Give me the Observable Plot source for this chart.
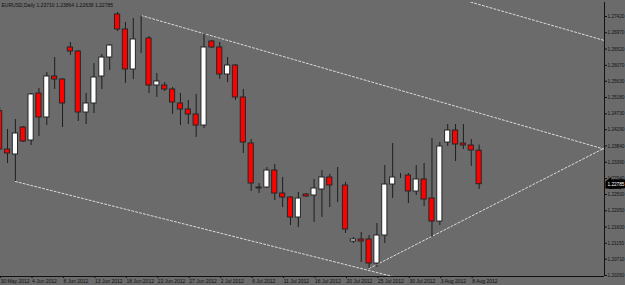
<!DOCTYPE html>
<html>
<head>
<meta charset="utf-8">
<script src="https://cdn.jsdelivr.net/npm/d3@7"></script>
<script src="https://cdn.jsdelivr.net/npm/@observablehq/plot@0.6"></script>
<style>
  html, body { margin: 0; padding: 0; background: #6b6b6b; overflow: hidden; }
  #chart svg { display: block; }
</style>
</head>
<body>
<div id="chart"></div>
<script>
// EURUSD Daily bars (broker with Sunday bars)
const dates = [
  "2012-05-30","2012-05-31","2012-06-01","2012-06-03","2012-06-04","2012-06-05","2012-06-06","2012-06-07","2012-06-08","2012-06-10",
  "2012-06-11","2012-06-12","2012-06-13","2012-06-14","2012-06-15","2012-06-17","2012-06-18","2012-06-19","2012-06-20","2012-06-21",
  "2012-06-22","2012-06-24","2012-06-25","2012-06-26","2012-06-27","2012-06-28","2012-06-29","2012-07-01","2012-07-02","2012-07-03",
  "2012-07-04","2012-07-05","2012-07-06","2012-07-08","2012-07-09","2012-07-10","2012-07-11","2012-07-12","2012-07-13","2012-07-15",
  "2012-07-16","2012-07-17","2012-07-18","2012-07-19","2012-07-20","2012-07-22","2012-07-23","2012-07-24","2012-07-25","2012-07-26",
  "2012-07-27","2012-07-29","2012-07-30","2012-07-31","2012-08-01","2012-08-02","2012-08-03","2012-08-05","2012-08-06","2012-08-07",
  "2012-08-08","2012-08-09"
];
const open = [
  1.24802,1.23743,1.23605,1.24351,1.23992,1.25291,1.24628,1.25761,1.25678,1.26563,
  1.26452,1.24766,1.25015,1.25761,1.26286,1.27475,1.27061,1.25955,1.26812,1.26812,
  1.25512,1.25512,1.25402,1.25015,1.24849,1.24711,1.24406,1.26729,1.26563,1.25816,
  1.26065,1.25181,1.23909,1.22665,1.22692,1.23162,1.22526,1.22416,1.21863,1.22499,
  1.22471,1.22637,1.22969,1.22748,1.22748,1.21200,1.21255,1.21255,1.20591,1.21365,
  1.22775,1.23024,1.23024,1.22582,1.22914,1.22388,1.21752,1.23936,1.24268,1.23909,
  1.23854,1.23710
];
const high = [
  1.24900,1.24296,1.24572,1.24379,1.25291,1.25430,1.25872,1.26286,1.25706,1.26701,
  1.26480,1.25291,1.26121,1.26369,1.26646,1.27531,1.27254,1.27365,1.27448,1.26867,
  1.25844,1.25595,1.25457,1.25291,1.25098,1.25264,1.26950,1.26756,1.26701,1.26286,
  1.26093,1.25402,1.24020,1.22803,1.23245,1.23328,1.22969,1.22443,1.22554,1.22526,
  1.22914,1.23162,1.23052,1.23245,1.22831,1.21310,1.21448,1.21365,1.21697,1.23300,
  1.23909,1.23079,1.23079,1.23300,1.23356,1.24047,1.23936,1.24434,1.24434,1.24434,
  1.24020,1.23864
];
const low = [
  1.23720,1.23356,1.22858,1.23936,1.23854,1.24102,1.24406,1.25402,1.24351,1.26342,
  1.24517,1.24434,1.24738,1.25402,1.25927,1.27005,1.25568,1.25678,1.26397,1.25291,
  1.25181,1.25346,1.24711,1.24406,1.24434,1.24075,1.24324,1.26535,1.25678,1.25595,
  1.25098,1.23632,1.22582,1.22526,1.22665,1.22333,1.22139,1.21642,1.21586,1.22416,
  1.21725,1.21863,1.22139,1.22278,1.21421,1.21144,1.20619,1.20453,1.20481,1.21144,
  1.22388,1.22941,1.22250,1.22471,1.22167,1.21310,1.21642,1.23826,1.23411,1.23743,
  1.23273,1.22638
];
const close = [
  1.23743,1.23632,1.24185,1.23964,1.25264,1.24628,1.25761,1.25678,1.25015,1.26452,
  1.24766,1.25015,1.25734,1.26286,1.26618,1.27061,1.25955,1.26784,1.26812,1.25512,
  1.25623,1.25402,1.25042,1.24849,1.24711,1.24406,1.26563,1.26563,1.25816,1.26065,
  1.25181,1.23936,1.22803,1.22692,1.23162,1.22526,1.22416,1.21863,1.22388,1.22443,
  1.22665,1.22969,1.22748,1.22748,1.21531,1.21255,1.21200,1.20591,1.21365,1.22775,
  1.22969,1.23024,1.22582,1.22914,1.22360,1.21752,1.23826,1.24268,1.23881,1.23854,
  1.23715,1.22785
];
// price axis tick labels (MetaTrader scale)
const priceTicks = [1.27420,1.26970,1.26520,1.26070,1.25630,1.25180,1.24730,1.24290,1.23840,
  1.23390,1.22940,1.22500,1.22050,1.21600,1.21150,1.20710,1.20260];
// trend lines (bar index relative to 4 Jun 2012, price)
const upperLine = [{bar: 14, price: 1.27448}, {bar: 72.95, price: 1.23750}];
const upperParallel = [{bar: 53.5, price: 1.27970}, {bar: 72.95, price: 1.26756}];
const lowerLine = [{bar: -2, price: 1.22858}, {bar: 46.1, price: 1.20227}];
const risingLine = [{bar: 43, price: 1.20453}, {bar: 72.95, price: 1.23784}];

const firstBar = -4; // 30 May 2012 is four bars before 4 Jun 2012
const bars = dates.map((d, i) => ({
  bar: i + firstBar, date: d, open: open[i], high: high[i], low: low[i], close: close[i]
}));

const months = ["Jan","Feb","Mar","Apr","May","Jun","Jul","Aug","Sep","Oct","Nov","Dec"];
const fmtDate = (s) => { const [y, m, d] = s.split("-"); return `${+d} ${months[+m - 1]} ${y}`; };
const labelBars = bars.filter((b) => (b.bar - firstBar) % 4 === 0);
const labelMap = new Map(labelBars.map((b) => [b.bar, fmtDate(b.date)]));

const xDomain = [-3.893, 72.95];
const yDomain = [1.20232, 1.27807];
const f5 = d3.format(".5f");
const last = bars[bars.length - 1];
const title = `EURUSD,Daily ${f5(last.open)} ${f5(last.high)} ${f5(last.low)} ${f5(last.close)}`;

const candleFill = (d) => d.close > d.open ? "#ffffff" : d.close < d.open ? "#ff0000" : "#222222";
const dash = {stroke: "#dcdcdc", strokeWidth: 1, strokeDasharray: "2,2", clip: true};

const chart = Plot.plot({
  width: 625,
  height: 285,
  marginTop: 2,
  marginBottom: 9,
  marginLeft: 0,
  marginRight: 21,
  style: {background: "#6b6b6b", color: "#111111", fontFamily: "'Liberation Sans', Arial, sans-serif", fontSize: "5px"},
  x: {domain: xDomain, axis: null},
  y: {domain: yDomain, axis: null},
  marks: [
    Plot.line(upperLine, {x: "bar", y: "price", ...dash}),
    Plot.line(upperParallel, {x: "bar", y: "price", ...dash}),
    Plot.line(lowerLine, {x: "bar", y: "price", ...dash}),
    Plot.line(risingLine, {x: "bar", y: "price", ...dash}),
    Plot.ruleX(bars, {x: "bar", y1: "low", y2: "high", stroke: "#1e1e1e", strokeWidth: 1, clip: true}),
    Plot.rect(bars, {
      x1: (d) => d.bar - 0.33, x2: (d) => d.bar + 0.33,
      y1: "open", y2: "close",
      fill: candleFill, stroke: "#262626", strokeWidth: 1, clip: true
    }),
    Plot.ruleY([yDomain[0]], {stroke: "#111111"}),
    Plot.ruleX([xDomain[1]], {stroke: "#111111"}),
    Plot.axisY({
      anchor: "right", ticks: priceTicks, tickFormat: f5,
      tickSize: 2, tickPadding: 1, fontSize: 4.7, label: null
    }),
    Plot.axisX({
      anchor: "bottom", ticks: labelBars.map((b) => b.bar),
      tickFormat: (d) => labelMap.get(d), textAnchor: "start",
      tickSize: 2, tickPadding: 1, dx: 1, fontSize: 5, label: null
    }),
    Plot.text([last], {
      x: () => xDomain[1], y: "close", text: (d) => f5(d.close),
      textAnchor: "start", dx: 3, fontSize: 4.7,
      fill: "#ffffff", stroke: "#000000", strokeWidth: 5, strokeLinejoin: "miter", paintOrder: "stroke"
    }),
    Plot.text([title], {
      frameAnchor: "top-left", textAnchor: "start", dx: 1, dy: 1,
      fill: "#111111", fontSize: 5
    })
  ]
});
document.getElementById("chart").append(chart);
</script>
</body>
</html>
